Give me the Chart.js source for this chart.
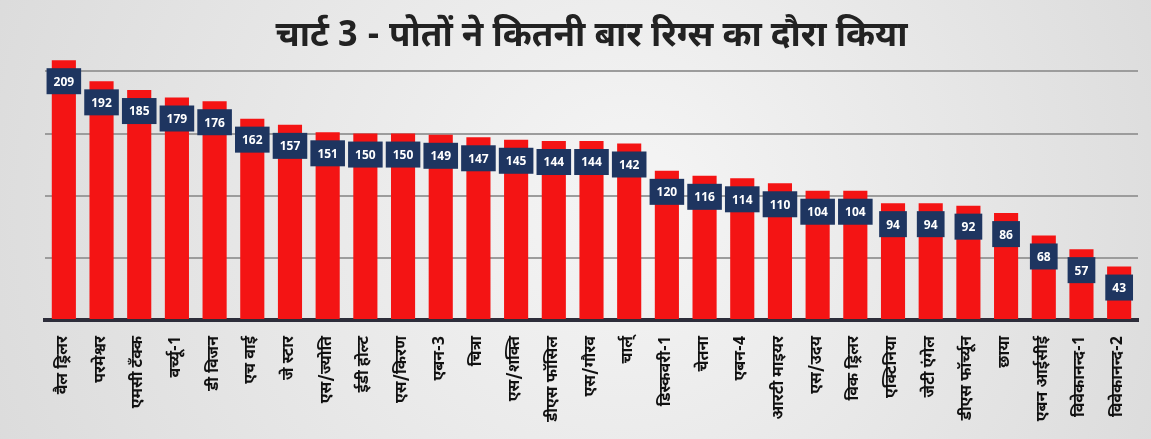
<!DOCTYPE html>
<html><head><meta charset="utf-8">
<script src="https://cdn.jsdelivr.net/npm/chart.js@4.4.0/dist/chart.umd.min.js"></script>
<style>html,body{margin:0;padding:0;background:#e4e4e4;}#wrap{width:1151px;height:439px;}</style>
</head><body><div id="wrap"><canvas id="c" width="1151" height="439"></canvas></div>
<script>
const titleText = "चार्ट 3 - पोतों ने कितनी बार रिग्स का दौरा किया";
const categories = ["वैल ड्रिलर","परमेश्वर","एमसी टॅंक्क","वर्च्यू-1","डी विजन","एच वाई","जे स्टार","एस/ज्योति","ईडी होल्ट","एस/किरण","एबन-3","चित्रा","एस/शक्ति","डीएस फॉसिल","एस/गौरव","चार्ल्","डिस्कवरी-1","चेतना","एबन-4","आरटी माइयर","एस/उदय","विक ड्रिलर","एक्टिनिया","जेटी एंगेल","डीएस फॉर्च्यून","छाया","एबन आईसीई","विवेकानन्द-1","विवेकानन्द-2"];
const visits = [209,192,185,179,176,162,157,151,150,150,149,147,145,144,144,142,120,116,114,110,104,104,94,94,92,86,68,57,43];
const gridTicks = [50,100,150,200];

const FONT = '"Noto Sans Devanagari","Lohit Devanagari","Noto Sans",Arial,sans-serif';

const bgPlugin = {
  id:'bg',
  beforeDraw(chart){
    const {ctx,width,height} = chart;
    ctx.save();
    const g = ctx.createRadialGradient(width*0.55,height*0.45,50,width*0.5,height*0.5,width*0.6);
    g.addColorStop(0,'#f3f3f3');
    g.addColorStop(1,'#d9d9d9');
    ctx.fillStyle = g;
    ctx.fillRect(0,0,width,height);
    ctx.restore();
  }
};
const boxPlugin = {
  id:'boxes',
  afterDatasetsDraw(chart){
    const {ctx} = chart;
    const meta = chart.getDatasetMeta(0);
    ctx.save();
    ctx.font = 'bold 12px "Open Sans","Liberation Sans",sans-serif';
    ctx.textAlign='center'; ctx.textBaseline='middle';
    meta.data.forEach((bar,i)=>{
      const txt = String(chart.data.datasets[0].data[i]);
      const w = ctx.measureText(txt).width + 14;
      const h = 26;
      const cx = bar.x, top = bar.y + 8;
      ctx.fillStyle = '#1e3560';
      ctx.fillRect(cx - w/2, top, w, h);
      ctx.fillStyle = '#ffffff';
      ctx.fillText(txt, cx, top + h/2 + 1);
    });
    ctx.restore();
  }
};

new Chart(document.getElementById('c'),{
  type:'bar',
  data:{labels:categories,datasets:[{data:visits,backgroundColor:'#f41414',barPercentage:0.8,categoryPercentage:0.8}]},
  options:{
    responsive:false,animation:false,
    layout:{padding:{left:45,right:13,top:0,bottom:0}},
    plugins:{
      legend:{display:false},tooltip:{enabled:false},
      title:{display:true,text:titleText,color:'#222',font:{family:FONT,size:35,weight:'bold'},padding:{top:18,bottom:-6}}
    },
    scales:{
      x:{
        afterFit:(s)=>{ s.height = 119; },
        grid:{display:false},
        border:{display:true,color:'#2d2d3a',width:4},
        ticks:{color:'#111',maxRotation:90,minRotation:90,autoSkip:false,font:{family:FONT,size:16,weight:'bold'},padding:8}
      },
      y:{
        min:0,max:214,
        border:{display:false},
        ticks:{display:false,stepSize:50},
        grid:{drawTicks:false,lineWidth:2,color:(c)=> (c.tick && gridTicks.includes(c.tick.value)) ? '#9c9c9c' : 'rgba(0,0,0,0)'}
      }
    }
  },
  plugins:[bgPlugin,boxPlugin]
});
</script></body></html>
